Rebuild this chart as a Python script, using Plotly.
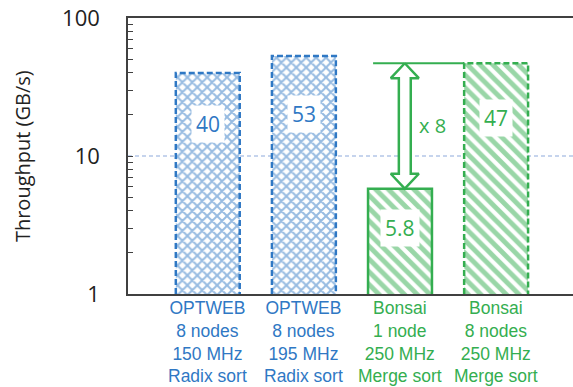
import numpy as np
import plotly.graph_objects as go

# ---- data ----
cat_lines = [
    ["OPTWEB", "8 nodes", "150 MHz", "Radix sort"],
    ["OPTWEB", "8 nodes", "195 MHz", "Radix sort"],
    ["Bonsai", "1 node", "250 MHz", "Merge sort"],
    ["Bonsai", "8 nodes", "250 MHz", "Merge sort"],
]
values = [40, 53, 5.8, 47]
value_labels = ["40", "53", "5.8", "47"]
groups = ["OPTWEB", "OPTWEB", "Bonsai", "Bonsai"]
ratio_label = "x 8"
ref_line_value = 10
y_tick_vals = [1, 2, 3, 4, 5, 6, 7, 8, 9, 10, 20, 30, 40, 50, 60, 70, 80, 90, 100]
y_tick_text = ["1"] + [""] * 8 + ["10"] + [""] * 8 + ["100"]
y_title = "Throughput (GB/s)"

# ---- styles ----
BLUE = "#2F78C4"
GREEN = "#34AE50"
group_color = {"OPTWEB": BLUE, "Bonsai": GREEN}
group_pattern = {"OPTWEB": "x", "Bonsai": "\\"}
border_dash = ["6px,3px", "6px,3px", "solid", "6px,3px"]
label_pos = [0.77, 0.755, 0.63, 0.762]   # fraction of bar height (log space)
bar_w = 0.665
AX = "#404040"
FONT = "Open Sans"
PLOT_TOP, PLOT_BOTTOM, H = 18, 294, 387

colors = [group_color[g] for g in groups]
xs = list(range(len(values)))

fig = go.Figure()

fig.add_trace(go.Bar(
    x=xs, y=values, width=bar_w,
    marker=dict(
        color="white",
        line=dict(width=0),
        pattern=dict(
            shape=[group_pattern[g] for g in groups],
            fgcolor=colors,
            bgcolor="white",
            size=[7 if g == "OPTWEB" else 9 for g in groups],
            solidity=[0.5 if g == "OPTWEB" else 0.55 for g in groups],
        ),
    ),
    hoverinfo="skip", showlegend=False,
))

# bar outlines
for i, v in enumerate(values):
    x0, x1 = i - bar_w / 2, i + bar_w / 2
    fig.add_trace(go.Scatter(
        x=[x0, x0, x1, x1], y=[1, v, v, 1], mode="lines",
        line=dict(color=colors[i], width=2.5, dash=border_dash[i]),
        hoverinfo="skip", showlegend=False,
    ))

# ratio arrow between Bonsai 1 node and Bonsai 8 nodes
top_v, bot_v = values[3], values[2]
xc = 2.05
hw, sw, hh = 0.146, 0.062, 0.108
lt, lb = np.log10(top_v), np.log10(bot_v)
ax_pts = [
    (xc, lt), (xc + hw, lt - hh), (xc + sw, lt - hh), (xc + sw, lb + hh),
    (xc + hw, lb + hh), (xc, lb), (xc - hw, lb + hh), (xc - sw, lb + hh),
    (xc - sw, lt - hh), (xc - hw, lt - hh), (xc, lt),
]
fig.add_trace(go.Scatter(
    x=[p[0] for p in ax_pts], y=[10 ** p[1] for p in ax_pts],
    mode="lines", fill="toself", fillcolor="white",
    line=dict(color=GREEN, width=2.5),
    hoverinfo="skip", showlegend=False,
))
fig.add_trace(go.Scatter(
    x=[1.72, 3 - bar_w / 2], y=[top_v, top_v], mode="lines",
    line=dict(color=GREEN, width=2), hoverinfo="skip", showlegend=False,
))

# reference line at 10 (below bars)
fig.add_shape(type="line", xref="paper", x0=0, x1=1, yref="y",
              y0=ref_line_value, y1=ref_line_value, layer="below",
              line=dict(color="#8EA9DB", width=1.2, dash="4px,3px"))

# value labels in bars
for i, v in enumerate(values):
    fig.add_annotation(
        x=i, y=np.log10(v) * label_pos[i], text=value_labels[i],
        showarrow=False, bgcolor="white", borderpad=4,
        font=dict(family=FONT, size=21, color=colors[i]),
    )

fig.add_annotation(
    x=2.18, y=(lt + lb) / 2, text=ratio_label, showarrow=False,
    xanchor="left", font=dict(family=FONT, size=20, color=GREEN),
)

fig.add_annotation(
    xref="paper", yref="paper", x=-0.238, y=0.5, text=y_title,
    textangle=-90, showarrow=False, xanchor="center", yanchor="middle",
    font=dict(family=FONT, size=20, color="#222"),
)

# category labels (multi-line, coloured per group)
label_bottom = -(H + 1 - PLOT_BOTTOM) / (PLOT_BOTTOM - PLOT_TOP)
for i, lines in enumerate(cat_lines):
    fig.add_annotation(
        x=i, xref="x", yref="paper", y=label_bottom, yanchor="bottom",
        text="<br>".join(lines), showarrow=False, align="center",
        font=dict(family="Liberation Sans", size=17.5, color=colors[i]),
    )

fig.update_layout(
    width=573, height=H,
    margin=dict(l=128, r=0, t=PLOT_TOP, b=H - PLOT_BOTTOM),
    plot_bgcolor="white", paper_bgcolor="white",
    showlegend=False,
    xaxis=dict(
        range=[-0.83, 3.8], tickvals=xs, showticklabels=False,
        showline=True, linecolor=AX, linewidth=1.5, mirror=True,
        ticks="", showgrid=False, zeroline=False, automargin=False,
    ),
    yaxis=dict(
        type="log", range=[0, 2], tickvals=y_tick_vals, ticktext=y_tick_text,
        ticks="inside", ticklen=5, tickcolor=AX, tickwidth=1,
        showline=True, linecolor=AX, linewidth=1.5, automargin=False,
        showgrid=False, zeroline=False, ticklabelstandoff=22,
        tickfont=dict(family=FONT, size=22, color="#222"),
    ),
)

fig.write_html(
    "out.html",
    config={"displayModeBar": False},
    post_script="document.body.style.margin='0px';document.body.style.overflow='hidden';",
)
